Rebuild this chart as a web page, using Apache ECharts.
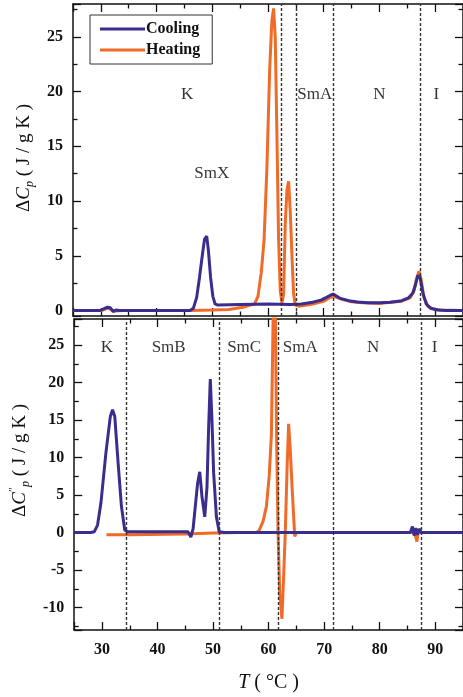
<!DOCTYPE html>
<html>
<head>
<meta charset="utf-8">
<script src="https://cdn.jsdelivr.net/npm/echarts@6/dist/echarts.min.js"></script>
<style>html,body{margin:0;padding:0;background:#fff;}#c{width:463px;height:697px;}</style>
</head>
<body>
<div id="c"></div>
<script>
// ---- Top panel: ΔCp ----
const topCoolT = [25, 28, 29.8, 30.5, 31.2, 31.7, 32.2, 32.7, 33.3, 40, 46, 46.6, 47.2, 47.7, 48.2, 48.6, 49.0, 49.3, 49.7, 50.1, 50.5, 51, 55, 60, 64, 66, 68, 69.5, 70.5, 71.2, 71.7, 72.2, 73, 74.5, 76, 78, 80, 82, 84, 85.2, 86, 86.5, 86.9, 87.3, 87.8, 88.4, 89.2, 90.5, 92, 95];
const topCoolV = [0, 0, 0, 0.15, 0.3, 0.25, -0.1, 0.05, 0, 0, 0, 0.2, 1.2, 3, 5, 6.5, 6.8, 5.5, 3, 1.3, 0.6, 0.5, 0.55, 0.6, 0.55, 0.6, 0.75, 0.95, 1.2, 1.4, 1.5, 1.35, 1.1, 0.9, 0.78, 0.7, 0.7, 0.75, 0.9, 1.15, 1.6, 2.4, 3.2, 3.0, 1.6, 0.6, 0.2, 0.05, 0, 0];
const topHeatT = [25, 30.2, 30.8, 31.4, 32, 32.6, 34, 40, 46, 50, 53, 55.5, 56.8, 57.6, 58.2, 58.8, 59.3, 59.8, 60.3, 60.7, 61.0, 61.3, 61.6, 61.9, 62.2, 62.5, 62.8, 63.1, 63.4, 63.7, 64.0, 64.3, 64.6, 64.9, 65.5, 67, 68.5, 70, 71, 71.7, 72.3, 73.5, 75, 77, 80, 82, 84, 85.5, 86.2, 86.7, 87.1, 87.5, 88, 88.7, 89.5, 91, 95];
const topHeatV = [0, 0, 0.15, 0.2, 0.05, -0.05, 0, 0, 0, 0.05, 0.1, 0.3, 0.5, 0.6, 1.3, 3.5, 6.5, 13, 22, 26.5, 27.6, 25, 16, 6.5, 1.8, 0.7, 1.5, 8, 11, 11.8, 9, 5, 1.5, 0.5, 0.4, 0.5, 0.65, 0.85, 1.15, 1.3, 1.2, 1.0, 0.8, 0.7, 0.65, 0.75, 0.85, 1.15, 1.8, 3.0, 3.6, 2.8, 1.2, 0.4, 0.15, 0.05, 0];
const topDashT = [62.3, 65.0, 71.7, 87.4];
const topPhaseNames = ['K', 'SmX', 'SmA', 'N', 'I'];
const topPhaseT = [45.5, 49.9, 68.4, 80.0, 90.2];
const topPhaseY = [19.7, 12.5, 19.7, 19.7, 19.7];

// ---- Bottom panel: ΔC''p ----
const botCoolT = [25, 28, 28.6, 29.2, 29.8, 30.7, 31.5, 31.9, 32.3, 32.9, 33.5, 34.1, 34.6, 40, 45.5, 46.0, 46.4, 46.8, 47.2, 47.6, 48.0, 48.5, 48.9, 49.2, 49.5, 49.8, 50.1, 50.6, 51.1, 52, 60, 70, 80, 85.5, 85.9, 86.2, 86.5, 86.8, 87.1, 87.5, 88, 90, 95];
const botCoolV = [0, 0, 0.1, 1.0, 3.9, 10.6, 15.5, 16.4, 15.5, 9.3, 3.5, 0.35, 0.1, 0.1, 0.1, -0.6, 0.5, 3.5, 6.5, 8.1, 4.8, 2.1, 6, 14, 20.5, 15, 8, 2.1, 0.1, 0, 0, 0, 0, 0, 0.8, -0.4, 0.6, -0.3, 0.5, 0, 0, 0, 0];
const botHeatT = [30.8, 35, 45, 50, 55, 57.8, 58.3, 59.0, 59.6, 60.1, 60.5, 60.8, 61.0, 61.2, 61.45, 61.7, 62.0, 62.4, 62.7, 63.0, 63.3, 63.6, 63.9, 64.3, 64.7, 65.0, 70, 80, 86.0, 86.4, 86.7, 87.0, 87.3, 88, 95];
const botHeatV = [-0.3, -0.3, -0.2, -0.05, 0, 0, 0.3, 1.5, 3.5, 7.5, 13, 28, 34, 30, 12, 0, -8, -11.5, -6, 0, 8, 14.5, 11, 5, -0.5, 0, 0, 0, 0, -0.3, -1.2, 0.3, 0, 0, 0];
const botDashT = [34.4, 51.1, 61.7, 71.7, 87.4];
const botPhaseNames = ['K', 'SmB', 'SmC', 'SmA', 'N', 'I'];
const botPhaseT = [30.9, 42.0, 55.6, 65.7, 78.8, 89.9];
const botPhaseY = [24.7, 24.7, 24.7, 24.7, 24.7, 24.7];

const xMin = 25, xMax = 95;
const topYMin = -0.5, topYMax = 28;
const botYMin = -13, botYMax = 28.5;

const SERIF = 'Liberation Serif';
const INK = '#111';
const COOL = '#3a2d8e';
const HEAT = '#f06a28';

const zip = (a, b) => a.map((v, i) => [v, b[i]]);
const phaseData = (n, t, y) => n.map((s, i) => [t[i], y[i], s]);

const tickCommon = {inside: true, length: 8, lineStyle: {color: INK, width: 1.3}};
const minorCommon = {show: true, splitNumber: 2, length: 4.5, lineStyle: {color: INK, width: 1.3}};
const lineCommon = {show: true, onZero: false, lineStyle: {color: INK, width: 1.5}};
const labelFont = {fontFamily: SERIF, fontSize: 16, fontWeight: 'bold', color: INK};

function xAx(grid, pos, showLabel, name) {
  const ax = {
    type: 'value', gridIndex: grid, position: pos, min: xMin, max: xMax,
    axisLine: lineCommon, axisTick: tickCommon, minorTick: minorCommon,
    splitLine: {show: false},
    axisLabel: Object.assign({show: showLabel, margin: 12, showMinLabel: false, showMaxLabel: false}, labelFont)
  };
  if (name) {
    ax.name = name;
    ax.nameLocation = 'middle';
    ax.nameGap = 41;
    ax.nameTextStyle = {
      rich: {
        a: {fontFamily: SERIF, fontSize: 20, color: INK, lineHeight: 24},
        i: {fontFamily: SERIF, fontSize: 20, fontStyle: 'italic', color: INK, lineHeight: 24}
      }
    };
  }
  return ax;
}
function yAx(grid, pos, showLabel, mn, mx, split, name, pad) {
  const ax = {
    type: 'value', gridIndex: grid, position: pos, min: mn, max: mx, splitNumber: split,
    axisLine: lineCommon, axisTick: tickCommon, minorTick: minorCommon,
    splitLine: {show: false},
    axisLabel: Object.assign({show: showLabel, margin: 10, showMinLabel: false, showMaxLabel: false}, labelFont)
  };
  if (name) {
    ax.name = name;
    ax.nameLocation = 'middle';
    ax.nameGap = 37;
    ax.nameTextStyle = {
      padding: pad || 0,
      rich: {
        a: {fontFamily: SERIF, fontSize: 19, color: INK, lineHeight: 24},
        i: {fontFamily: SERIF, fontSize: 19, fontStyle: 'italic', color: INK, lineHeight: 24},
        sub: {fontFamily: SERIF, fontSize: 12, fontStyle: 'italic', color: INK, lineHeight: 8, verticalAlign: 'bottom'},
        sup: {fontFamily: SERIF, fontSize: 12, color: INK, lineHeight: 8, verticalAlign: 'top'}
      }
    };
  }
  return ax;
}

function dashLines(arr) {
  return {
    silent: true, symbol: 'none', animation: false,
    label: {show: false},
    lineStyle: {color: '#333', width: 1.4, type: [3, 2]},
    data: arr.map(v => ({xAxis: v}))
  };
}
function phaseSeries(grid, data) {
  return {
    type: 'scatter', xAxisIndex: grid * 2, yAxisIndex: grid * 2, symbolSize: 0, silent: true,
    data: data,
    label: {show: true, position: 'inside', formatter: p => p.data[2],
            fontFamily: SERIF, fontSize: 17, color: '#000'}
  };
}

const chart = echarts.init(document.getElementById('c'), null, {renderer: 'canvas'});
chart.setOption({
  animation: false,
  backgroundColor: '#fff',
  grid: [
    {left: 73, top: 4, right: 0, height: 312},
    {left: 73, top: 319, right: 0, height: 311}
  ],
  xAxis: [
    xAx(0, 'bottom', false),
    xAx(0, 'top', false),
    xAx(1, 'bottom', true, '{i|T}{a| ( °C )}'),
    xAx(1, 'top', false)
  ],
  yAxis: [
    yAx(0, 'left', true, topYMin, topYMax, 5, '{a|Δ}{i|C}{sub|p}{a| ( J / g K )}', [0, 0, 0, 4]),
    yAx(0, 'right', false, topYMin, topYMax, 5),
    yAx(1, 'left', true, botYMin, botYMax, 8, '{a|Δ}{i|C}{sup|″}{sub|p}{a| ( J / g K )}', [0, 0, 0, 28]),
    yAx(1, 'right', false, botYMin, botYMax, 8)
  ],
  legend: {
    data: ['Cooling', 'Heating'],
    orient: 'vertical', left: 90, top: 15,
    borderColor: '#333', borderWidth: 1, borderRadius: 0,
    padding: [6, 12, 6, 10], itemGap: 5,
    itemWidth: 45, itemHeight: 3, icon: 'rect',
    textStyle: {fontFamily: SERIF, fontSize: 16, fontWeight: 'bold', color: INK, padding: [0, 0, 0, -4]}
  },
  series: [
    {name: 'Heating', type: 'line', xAxisIndex: 0, yAxisIndex: 0, data: zip(topHeatT, topHeatV),
     showSymbol: false, symbol: 'none', lineStyle: {color: HEAT, width: 3}, itemStyle: {color: HEAT}},
    {name: 'Cooling', type: 'line', xAxisIndex: 0, yAxisIndex: 0, data: zip(topCoolT, topCoolV),
     showSymbol: false, symbol: 'none', lineStyle: {color: COOL, width: 3}, itemStyle: {color: COOL},
     markLine: dashLines(topDashT)},
    {name: 'Heating', type: 'line', xAxisIndex: 2, yAxisIndex: 2, data: zip(botHeatT, botHeatV),
     showSymbol: false, symbol: 'none', lineStyle: {color: HEAT, width: 3}, itemStyle: {color: HEAT}},
    {name: 'Cooling', type: 'line', xAxisIndex: 2, yAxisIndex: 2, data: zip(botCoolT, botCoolV),
     showSymbol: false, symbol: 'none', lineStyle: {color: COOL, width: 3}, itemStyle: {color: COOL},
     markLine: dashLines(botDashT)},
    phaseSeries(0, phaseData(topPhaseNames, topPhaseT, topPhaseY)),
    phaseSeries(1, phaseData(botPhaseNames, botPhaseT, botPhaseY))
  ]
});
</script>
</body>
</html>
